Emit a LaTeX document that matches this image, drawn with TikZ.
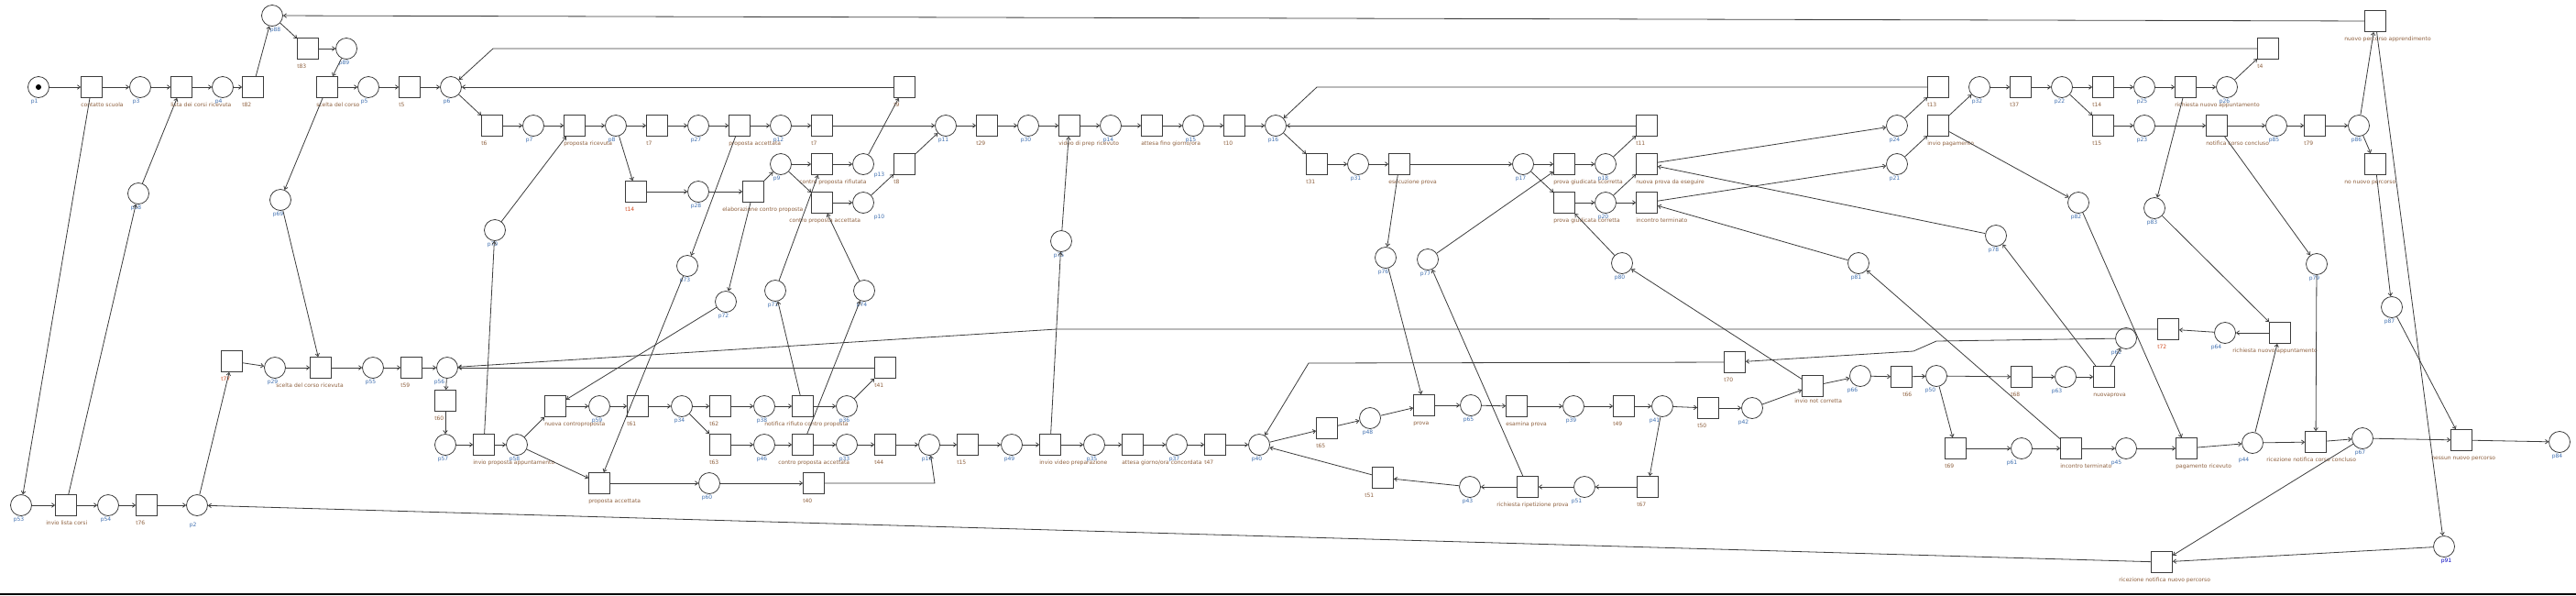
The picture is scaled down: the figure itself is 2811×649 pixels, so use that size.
\documentclass[tikz,border=0pt]{standalone}
\usepackage{fontspec}
\setmainfont{DejaVu Sans}
\usetikzlibrary{arrows.meta}
\definecolor{plabel}{HTML}{4070B0}
\definecolor{tlabel}{HTML}{8E603E}
\definecolor{hilabel}{HTML}{D04A20}
\definecolor{netline}{HTML}{3C3C3C}
\begin{document}
\begin{tikzpicture}[x=1pt,y=-1pt,font=\fontsize{6}{7}\selectfont,
  lab/.style={anchor=north west,inner sep=0pt,yshift=-4.5pt,text height=4.4pt,text depth=1.3pt},
  place/.style={draw=netline,circle,minimum size=23pt,inner sep=0pt,line width=0.8pt},
  trans/.style={draw=netline,rectangle,minimum size=23pt,inner sep=0pt,line width=0.8pt},
  pl/.style={place,label={[lab,text=plabel]south west:#1}},
  tr/.style={trans,label={[lab,text=tlabel]south west:#1}},
  plx/.style 2 args={place,label={[lab,text=plabel,#1]south west:#2}},
  trx/.style 2 args={trans,label={[lab,text=tlabel,#1]south west:#2}},
  arc/.style={->,draw=netline,line width=0.8pt},
  >={Straight Barb[length=3pt,width=4.5pt]}]
\useasboundingbox (0,0) rectangle (2811,649);
% places
\node (p1) at (42,95) [pl=p1] {};
\node (p3) at (153,95) [pl=p3] {};
\node (p4) at (243,95) [pl=p4] {};
\node (p88) at (297,17) [plx={xshift=6pt}{p88}] {};
\node (p89) at (378,53) [pl=p89] {};
\node (p5) at (402,95) [pl=p5] {};
\node (p68) at (151,211) [pl=p68] {};
\node (p69) at (306,218) [pl=p69] {};
\node (p53) at (23,551) [pl=p53] {};
\node (p54) at (118,551) [pl=p54] {};
\node (p2) at (215,551) [plx={yshift=-6pt}{p2}] {};
\node (p29) at (300,401) [pl=p29] {};
\node (p55) at (407,401) [pl=p55] {};
\node (p56) at (488,401) [plx={xshift=-6pt}{p56}] {};
\node (p57) at (486,485) [pl=p57] {};
\node (p6) at (492,95) [pl=p6] {};
\node (p7) at (582,137) [pl=p7] {};
\node (p8) at (672,137) [pl=p8] {};
\node (p27) at (762,137) [pl=p27] {};
\node (p12) at (852,137) [pl=p12] {};
\node (p28) at (762,209) [pl=p28] {};
\node (p9) at (852,179) [pl=p9] {};
\node (p13) at (942,179) [plx={xshift=20pt,yshift=4pt}{p13}] {};
\node (p10) at (942,221) [plx={xshift=20pt}{p10}] {};
\node (p70) at (540,251) [pl=p70] {};
\node (p73) at (750,290) [pl=p73] {};
\node (p72) at (792,329) [pl=p72] {};
\node (p71) at (846,317) [pl=p71] {};
\node (p74) at (943,317) [pl=p74] {};
\node (p58) at (564,485) [pl=p58] {};
\node (p59) at (654,443) [pl=p59] {};
\node (p34) at (744,443) [pl=p34] {};
\node (p38) at (834,443) [pl=p38] {};
\node (p36) at (924,443) [pl=p36] {};
\node (p46) at (834,485) [pl=p46] {};
\node (p33) at (924,485) [pl=p33] {};
\node (p60) at (774,527) [pl=p60] {};
\node (p11) at (1032,137) [pl=p11] {};
\node (p30) at (1122,137) [pl=p30] {};
\node (p14) at (1212,137) [pl=p14] {};
\node (p15) at (1302,137) [pl=p15] {};
\node (p16) at (1392,137) [pl=p16] {};
\node (p75) at (1158,263) [pl=p75] {};
\node (p19) at (1014,485) [pl=p19] {};
\node (p49) at (1104,485) [pl=p49] {};
\node (p35) at (1194,485) [pl=p35] {};
\node (p37) at (1284,485) [pl=p37] {};
\node (p40) at (1374,485) [pl=p40] {};
\node (p31) at (1482,179) [pl=p31] {};
\node (p17) at (1662,179) [pl=p17] {};
\node (p18) at (1752,179) [pl=p18] {};
\node (p20) at (1752,221) [pl=p20] {};
\node (p76) at (1512,281) [pl=p76] {};
\node (p77) at (1558,283) [pl=p77] {};
\node (p80) at (1770,287) [pl=p80] {};
\node (p48) at (1495,456) [pl=p48] {};
\node (p65) at (1605,442) [pl=p65] {};
\node (p39) at (1717,443) [pl=p39] {};
\node (p41) at (1814,443) [plx={xshift=-6pt}{p41}] {};
\node (p43) at (1604,531) [pl=p43] {};
\node (p51) at (1729,531) [plx={xshift=-6pt}{p51}] {};
\node (p24) at (2070,137) [pl=p24] {};
\node (p21) at (2070,179) [pl=p21] {};
\node (p32) at (2160,95) [pl=p32] {};
\node (p22) at (2250,95) [pl=p22] {};
\node (p25) at (2340,95) [pl=p25] {};
\node (p23) at (2340,137) [pl=p23] {};
\node (p82) at (2268,221) [pl=p82] {};
\node (p78) at (2178,257) [pl=p78] {};
\node (p81) at (2028,287) [pl=p81] {};
\node (p83) at (2351,227) [pl=p83] {};
\node (p26) at (2430,95) [pl=p26] {};
\node (p85) at (2484,137) [pl=p85] {};
\node (p86) at (2574,137) [pl=p86] {};
\node (p79) at (2528,288) [pl=p79] {};
\node (p87) at (2610,335) [pl=p87] {};
\node (p42) at (1912,445) [plx={xshift=-7pt}{p42}] {};
\node (p66) at (2030,410) [plx={xshift=-6pt}{p66}] {};
\node (p50) at (2113,410) [plx={xshift=-4pt}{p50}] {};
\node (p63) at (2254,411) [plx={xshift=-7pt}{p63}] {};
\node (p62) at (2320,369) [plx={xshift=-8pt}{p62}] {};
\node (p61) at (2206,489) [plx={xshift=-8pt}{p61}] {};
\node (p45) at (2320,489) [plx={xshift=-8pt}{p45}] {};
\node (p64) at (2428,363) [plx={xshift=-7pt}{p64}] {};
\node (p44) at (2458,483) [plx={xshift=-7pt,yshift=-3pt}{p44}] {};
\node (p67) at (2578,478) [pl=p67] {};
\node (p84) at (2793,482) [pl=p84] {};
\node (p91) at (2667,596) [plx={xshift=5pt,text=blue!75!black}{p91}] {};
\fill[black] (p1.center) circle (3);
% transitions
\node (tcontatto) at (100,95) [tr={contatto scuola}] {};
\node (tlista) at (198,95) [tr={lista dei corsi ricevuta}] {};
\node (t82) at (276,95) [tr=t82] {};
\node (t83) at (336,53) [tr=t83] {};
\node (tscelta) at (357,95) [tr={scelta del corso}] {};
\node (t5) at (447,95) [tr=t5] {};
\node (tinviolista) at (72,551) [trx={xshift=-10pt}{invio lista corsi}] {};
\node (t76) at (160,551) [tr=t76] {};
\node (t77) at (253,394) [trx={text=hilabel}{t77}] {};
\node (tsceltaric) at (350,401) [trx={xshift=-37pt}{scelta del corso ricevuta}] {};
\node (t59) at (449,401) [tr=t59] {};
\node (t60) at (486,437) [tr=t60] {};
\node (t6) at (537,137) [tr=t6] {};
\node (tpropric) at (627,137) [tr={proposta ricevuta}] {};
\node (t7a) at (717,137) [tr=t7] {};
\node (tpropacc) at (807,137) [tr={proposta accettata}] {};
\node (t7b) at (897,137) [tr=t7] {};
\node (t14a) at (694,209) [trx={text=hilabel}{t14}] {};
\node (telab) at (822,209) [trx={xshift=-22pt}{elaborazione contro proposta}] {};
\node (tcprif) at (897,179) [trx={xshift=-13pt}{contro proposta rifiutata}] {};
\node (tcpacc) at (897,221) [trx={xshift=-24pt}{contro proposta accettata}] {};
\node (t9) at (987,95) [tr=t9] {};
\node (t8) at (987,179) [tr=t8] {};
\node (tinvioprop) at (528,485) [tr={invio proposta appuntamento}] {};
\node (tnuovacp) at (606,443) [tr={nuova controproposta}] {};
\node (t61) at (696,443) [tr=t61] {};
\node (t62) at (786,443) [tr=t62] {};
\node (tnotrif) at (876,443) [trx={xshift=-30pt}{notifica rifiuto contro proposta}] {};
\node (t41) at (966,401) [tr=t41] {};
\node (t63) at (786,485) [tr=t63] {};
\node (tcpacc2) at (876,485) [trx={xshift=-15pt}{contro proposta accettata}] {};
\node (t44) at (966,485) [tr=t44] {};
\node (tpropacc2) at (654,527) [tr={proposta accettata}] {};
\node (t40) at (888,527) [tr=t40] {};
\node (t29) at (1077,137) [tr=t29] {};
\node (tvideoric) at (1167,137) [tr={video di prep ricevuto}] {};
\node (tattesa) at (1257,137) [tr={attesa fino giorno/ora}] {};
\node (t10) at (1347,137) [tr=t10] {};
\node (t15a) at (1056,485) [tr=t15] {};
\node (tinviovideo) at (1146,485) [tr={invio video preparazione}] {};
\node (tattesa2) at (1236,485) [tr={attesa giorno/ora concordata}] {};
\node (t47) at (1326,485) [tr=t47] {};
\node (t31) at (1437,179) [tr=t31] {};
\node (tesec) at (1527,179) [tr={esecuzione prova}] {};
\node (tscorr) at (1707,179) [tr={prova giudicata scorretta}] {};
\node (tcorr) at (1707,221) [tr={prova giudicata corretta}] {};
\node (t11) at (1797,137) [tr=t11] {};
\node (tnuovaprova) at (1797,179) [tr={nuova prova da eseguire}] {};
\node (tincontro) at (1797,221) [tr={incontro terminato}] {};
\node (t65) at (1448,467) [tr=t65] {};
\node (tprova) at (1554,442) [tr=prova] {};
\node (tesamina) at (1655,443) [tr={esamina prova}] {};
\node (t49) at (1772,443) [tr=t49] {};
\node (t50) at (1864,445) [tr=t50] {};
\node (t51) at (1509,521) [trx={xshift=-8pt}{t51}] {};
\node (trichrip) at (1667,531) [trx={xshift=-22pt}{richiesta ripetizione prova}] {};
\node (t67) at (1798,531) [tr=t67] {};
\node (t70) at (1893,395) [tr=t70] {};
\node (t13) at (2115,95) [tr=t13] {};
\node (tinviopag) at (2115,137) [tr={invio pagamento}] {};
\node (t37) at (2205,95) [tr=t37] {};
\node (t14b) at (2295,95) [tr=t14] {};
\node (t15b) at (2295,137) [tr=t15] {};
\node (trichapp) at (2385,95) [tr={richiesta nuovo appuntamento}] {};
\node (t4) at (2475,53) [tr=t4] {};
\node (tnotcorso) at (2419,137) [tr={notifica corso concluso}] {};
\node (t79) at (2526,137) [tr=t79] {};
\node (tnuovoperc) at (2592,23) [trx={xshift=-22pt}{nuovo percorso apprendimento}] {};
\node (tnonuovo) at (2592,179) [trx={xshift=-22pt}{no nuovo percorso}] {};
\node (tinvionot) at (1978,421) [trx={xshift=-8pt,yshift=3pt}{invio not corretta}] {};
\node (t66) at (2075,411) [trx={xshift=13pt}{t66}] {};
\node (t68) at (2206,411) [tr=t68] {};
\node (tnuovaprova2) at (2296,411) [tr=nuovaprova] {};
\node (t69) at (2134,489) [tr=t69] {};
\node (tincontro2) at (2260,489) [tr={incontro terminato}] {};
\node (t72) at (2366,359) [trx={text=hilabel}{t72}] {};
\node (trichapp2) at (2488,363) [trx={xshift=-40pt}{richiesta nuovo appuntamento}] {};
\node (tpagric) at (2386,489) [tr={pagamento ricevuto}] {};
\node (tricnotcorso) at (2527,482) [trx={xshift=-42pt}{ricezione notifica corso concluso}] {};
\node (tnessun) at (2686,480) [trx={xshift=-21pt}{nessun nuovo percorso}] {};
\node (tricnotperc) at (2359,613) [trx={xshift=-35pt}{ricezione notifica nuovo percorso}] {};
% bend points
\coordinate (c1) at (538,53);
\coordinate (c2) at (1437,95);
\coordinate (c3) at (1153,359);
\coordinate (c4) at (1020,527);
\coordinate (c5) at (1428,396);
\coordinate (c6) at (2113,372);
\coordinate (c7) at (2088,383);
% arcs
\draw[arc] (p1) -- (tcontatto);
\draw[arc] (tcontatto) -- (p3);
\draw[arc] (p3) -- (tlista);
\draw[arc] (tlista) -- (p4);
\draw[arc] (p4) -- (t82);
\draw[arc] (t82) -- (p88);
\draw[arc] (p88) -- (t83);
\draw[arc] (t83) -- (p89);
\draw[arc] (p89) -- (tscelta);
\draw[arc] (tscelta) -- (p5);
\draw[arc] (p5) -- (t5);
\draw[arc] (t5) -- (p6);
\draw[arc] (tcontatto) -- (p53);
\draw[arc] (tinviolista) -- (p68);
\draw[arc] (p68) -- (tlista);
\draw[arc] (tscelta) -- (p69);
\draw[arc] (p69) -- (tsceltaric);
\draw[arc] (tnuovoperc) -- (p88);
\draw[arc] (p53) -- (tinviolista);
\draw[arc] (tinviolista) -- (p54);
\draw[arc] (p54) -- (t76);
\draw[arc] (t76) -- (p2);
\draw[arc] (p2) -- (t77);
\draw[arc] (t77) -- (p29);
\draw[arc] (p29) -- (tsceltaric);
\draw[arc] (tsceltaric) -- (p55);
\draw[arc] (p55) -- (t59);
\draw[arc] (t59) -- (p56);
\draw[arc] (tricnotperc) -- (p2);
\draw[arc] (t4) -- (c1) -- (p6);
\draw[arc] (t9) -- (p6);
\draw[arc] (p6) -- (t6);
\draw[arc] (t6) -- (p7);
\draw[arc] (p7) -- (tpropric);
\draw[arc] (tpropric) -- (p8);
\draw[arc] (p8) -- (t7a);
\draw[arc] (t7a) -- (p27);
\draw[arc] (p27) -- (tpropacc);
\draw[arc] (tpropacc) -- (p12);
\draw[arc] (p12) -- (t7b);
\draw[arc] (t7b) -- (p11);
\draw[arc] (p8) -- (t14a);
\draw[arc] (t14a) -- (p28);
\draw[arc] (p28) -- (telab);
\draw[arc] (telab) -- (p9);
\draw[arc] (p9) -- (tcprif);
\draw[arc] (p9) -- (tcpacc);
\draw[arc] (tcprif) -- (p13);
\draw[arc] (tcpacc) -- (p10);
\draw[arc] (p70) -- (tpropric);
\draw[arc] (tpropacc) -- (p73);
\draw[arc] (telab) -- (p72);
\draw[arc] (p71) -- (tcprif);
\draw[arc] (p74) -- (tcpacc);
\draw[arc] (tinvioprop) -- (p70);
\draw[arc] (p73) -- (tpropacc2);
\draw[arc] (p72) -- (tnuovacp);
\draw[arc] (tnotrif) -- (p71);
\draw[arc] (tcpacc2) -- (p74);
\draw[arc] (p13) -- (t9);
\draw[arc] (p10) -- (t8);
\draw[arc] (t8) -- (p11);
\draw[arc] (p11) -- (t29);
\draw[arc] (t29) -- (p30);
\draw[arc] (p30) -- (tvideoric);
\draw[arc] (tvideoric) -- (p14);
\draw[arc] (p14) -- (tattesa);
\draw[arc] (tattesa) -- (p15);
\draw[arc] (p15) -- (t10);
\draw[arc] (t10) -- (p16);
\draw[arc] (t13) -- (c2) -- (p16);
\draw[arc] (t11) -- (p16);
\draw[arc] (p16) -- (t31);
\draw[arc] (p75) -- (tvideoric);
\draw[arc] (tinviovideo) -- (p75);
\draw[arc] (p56) -- (t60);
\draw[arc] (t60) -- (p57);
\draw[arc] (p57) -- (tinvioprop);
\draw[arc] (tinvioprop) -- (p58);
\draw[arc] (p58) -- (tnuovacp);
\draw[arc] (p58) -- (tpropacc2);
\draw[arc] (tnuovacp) -- (p59);
\draw[arc] (p59) -- (t61);
\draw[arc] (t61) -- (p34);
\draw[arc] (p34) -- (t62);
\draw[arc] (p34) -- (t63);
\draw[arc] (t62) -- (p38);
\draw[arc] (p38) -- (tnotrif);
\draw[arc] (tnotrif) -- (p36);
\draw[arc] (p36) -- (t41);
\draw[arc] (t41) -- (p56);
\draw[arc] (t72) -- (c3) -- (p56);
\draw[arc] (t63) -- (p46);
\draw[arc] (p46) -- (tcpacc2);
\draw[arc] (tcpacc2) -- (p33);
\draw[arc] (p33) -- (t44);
\draw[arc] (tpropacc2) -- (p60);
\draw[arc] (p60) -- (t40);
\draw[arc] (t40) -- (c4) -- (p19);
\draw[arc] (t44) -- (p19);
\draw[arc] (p19) -- (t15a);
\draw[arc] (t15a) -- (p49);
\draw[arc] (p49) -- (tinviovideo);
\draw[arc] (tinviovideo) -- (p35);
\draw[arc] (p35) -- (tattesa2);
\draw[arc] (tattesa2) -- (p37);
\draw[arc] (p37) -- (t47);
\draw[arc] (t47) -- (p40);
\draw[arc] (t70) -- (c5) -- (p40);
\draw[arc] (p40) -- (t65);
\draw[arc] (t51) -- (p40);
\draw[arc] (t65) -- (p48);
\draw[arc] (p48) -- (tprova);
\draw[arc] (tprova) -- (p65);
\draw[arc] (p65) -- (tesamina);
\draw[arc] (tesamina) -- (p39);
\draw[arc] (p39) -- (t49);
\draw[arc] (t49) -- (p41);
\draw[arc] (p41) -- (t50);
\draw[arc] (p41) -- (t67);
\draw[arc] (t67) -- (p51);
\draw[arc] (p51) -- (trichrip);
\draw[arc] (trichrip) -- (p43);
\draw[arc] (p43) -- (t51);
\draw[arc] (p76) -- (tprova);
\draw[arc] (tesec) -- (p76);
\draw[arc] (trichrip) -- (p77);
\draw[arc] (p77) -- (tscorr);
\draw[arc] (t31) -- (p31);
\draw[arc] (p31) -- (tesec);
\draw[arc] (tesec) -- (p17);
\draw[arc] (p17) -- (tscorr);
\draw[arc] (p17) -- (tcorr);
\draw[arc] (tscorr) -- (p18);
\draw[arc] (p18) -- (t11);
\draw[arc] (p20) -- (tnuovaprova);
\draw[arc] (tcorr) -- (p20);
\draw[arc] (p20) -- (tincontro);
\draw[arc] (p80) -- (tcorr);
\draw[arc] (tinvionot) -- (p80);
\draw[arc] (tnuovaprova) -- (p24);
\draw[arc] (p78) -- (tnuovaprova);
\draw[arc] (tincontro) -- (p21);
\draw[arc] (p81) -- (tincontro);
\draw[arc] (p24) -- (t13);
\draw[arc] (p21) -- (tinviopag);
\draw[arc] (tinviopag) -- (p32);
\draw[arc] (p32) -- (t37);
\draw[arc] (t37) -- (p22);
\draw[arc] (p22) -- (t14b);
\draw[arc] (p22) -- (t15b);
\draw[arc] (t14b) -- (p25);
\draw[arc] (t15b) -- (p23);
\draw[arc] (tinviopag) -- (p82);
\draw[arc] (p82) -- (tpagric);
\draw[arc] (tnuovaprova2) -- (p78);
\draw[arc] (tincontro2) -- (p81);
\draw[arc] (p83) -- (trichapp2);
\draw[arc] (trichapp) -- (p83);
\draw[arc] (p25) -- (trichapp);
\draw[arc] (trichapp) -- (p26);
\draw[arc] (p26) -- (t4);
\draw[arc] (p23) -- (tnotcorso);
\draw[arc] (tnotcorso) -- (p85);
\draw[arc] (p85) -- (t79);
\draw[arc] (t79) -- (p86);
\draw[arc] (p86) -- (tnuovoperc);
\draw[arc] (p86) -- (tnonuovo);
\draw[arc] (tnotcorso) -- (p79);
\draw[arc] (tnonuovo) -- (p87);
\draw[arc] (tnuovoperc) -- (p91);
\draw[arc] (p79) -- (tricnotcorso);
\draw[arc] (trichapp2) -- (p64);
\draw[arc] (p64) -- (t72);
\draw[arc] (tpagric) -- (p44);
\draw[arc] (p44) -- (trichapp2);
\draw[arc] (p44) -- (tricnotcorso);
\draw[arc] (tricnotcorso) -- (p67);
\draw[arc] (p67) -- (tnessun);
\draw[arc] (tnessun) -- (p84);
\draw[arc] (p87) -- (tnessun);
\draw[arc] (p67) -- (tricnotperc);
\draw[arc] (p91) -- (tricnotperc);
\draw[arc] (p45) -- (tpagric);
\draw[arc] (t50) -- (p42);
\draw[arc] (p42) -- (tinvionot);
\draw[arc] (tinvionot) -- (p66);
\draw[arc] (p66) -- (t66);
\draw[arc] (t66) -- (p50);
\draw[arc] (p50) -- (t68);
\draw[arc] (t68) -- (p63);
\draw[arc] (p63) -- (tnuovaprova2);
\draw[arc] (tnuovaprova2) -- (p62);
\draw[arc] (p62) -- (c6) -- (c7) -- (t70);
\draw[arc] (p50) -- (t69);
\draw[arc] (t69) -- (p61);
\draw[arc] (p61) -- (tincontro2);
\draw[arc] (tincontro2) -- (p45);
% frame edge at the bottom
\draw[line width=1.2pt] (0,648) -- (2811,648);
\end{tikzpicture}
\end{document}
